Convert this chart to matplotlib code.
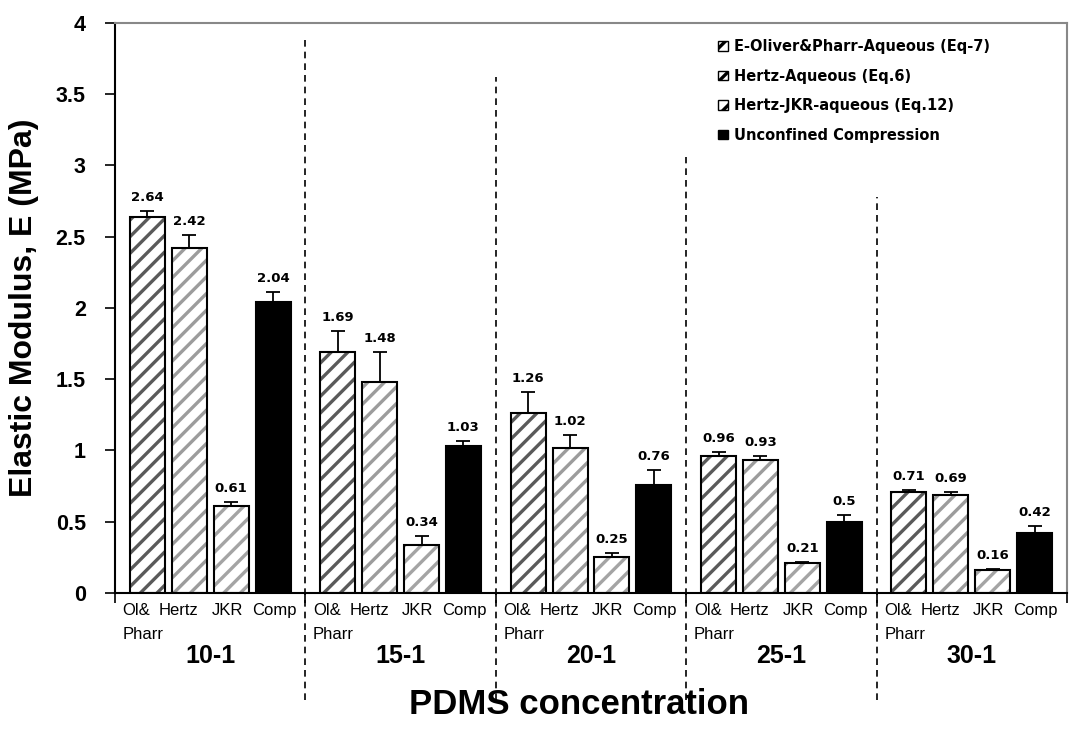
import numpy as np
import matplotlib
matplotlib.use("Agg")
import matplotlib.pyplot as plt
from matplotlib.patches import Patch

# PDMS base:curing-agent ratios and the four methods shown in each group
groups = ["10-1", "15-1", "20-1", "25-1", "30-1"]
methods = ["Ol&", "Hertz", "JKR", "Comp"]
legend_labels = ["E-Oliver&Pharr-Aqueous (Eq-7)", "Hertz-Aqueous (Eq.6)",
                 "Hertz-JKR-aqueous (Eq.12)", "Unconfined Compression"]

oliver_pharr = [2.64, 1.69, 1.26, 0.96, 0.71]
hertz = [2.42, 1.48, 1.02, 0.93, 0.69]
jkr = [0.61, 0.34, 0.25, 0.21, 0.16]
compression = [2.04, 1.03, 0.76, 0.50, 0.42]

oliver_pharr_err = [0.04, 0.15, 0.15, 0.03, 0.01]
hertz_err = [0.09, 0.21, 0.09, 0.03, 0.02]
jkr_err = [0.03, 0.06, 0.03, 0.01, 0.01]
compression_err = [0.07, 0.04, 0.10, 0.05, 0.05]

# heights where the dashed group separators start
divider_tops = [3.88, 3.62, 3.06, 2.78]

plt.rcParams["font.family"] = ["Liberation Sans", "DejaVu Sans"]
plt.rcParams["hatch.linewidth"] = 2.4

series = [oliver_pharr, hertz, jkr, compression]
errors = [oliver_pharr_err, hertz_err, jkr_err, compression_err]
styles = [dict(face="white", hatch="//", hcol="#5a5a5a"),
          dict(face="white", hatch="//", hcol="#9c9c9c"),
          dict(face="white", hatch="//", hcol="#a4a4a4"),
          dict(face="black", hatch=None, hcol="black")]
offsets = [-0.33, -0.11, 0.11, 0.33]
width = 0.184
# where the method names sit inside a group (not centred on the bars)
label_offsets = [-0.46, -0.165, 0.088, 0.335]

fig = plt.figure(figsize=(10.72, 7.32), dpi=100)
ax = fig.add_axes([0.1073, 0.1899, 0.8880, 0.7787])

x = np.arange(len(groups))
for vals, errs, st, off in zip(series, errors, styles, offsets):
    pos = x + off
    # hatch layer (its colour comes from the edge colour), then a black outline
    ax.bar(pos, vals, width, color=st["face"], edgecolor=st["hcol"],
           hatch=st["hatch"], linewidth=0, zorder=2)
    ax.bar(pos, vals, width, fill=False, edgecolor="black", linewidth=1.5, zorder=3)
    ax.errorbar(pos, vals, yerr=[np.zeros(len(errs)), errs], fmt="none",
                ecolor="black", elinewidth=1.3, capsize=5, capthick=1.3, zorder=4)
    for p, v, e in zip(pos, vals, errs):
        ax.annotate(f"{v:g}", (p, v + e), xytext=(0, 5), textcoords="offset points",
                    ha="center", va="bottom", fontsize=9.5, fontweight="bold",
                    family="DejaVu Sans")

# dashed separators running down into the label area
for b, top in zip(x[:-1] + 0.5, divider_tops):
    ax.plot([b, b], [-0.75, top], ls=(0, (4, 3)), color="black", lw=1.2,
            clip_on=False, zorder=1)

ax.set_xlim(-0.5, len(groups) - 0.5)
ax.set_ylim(0, 4)
ticks = np.arange(0, 4.01, 0.5)
ax.set_yticks(ticks)
ax.set_yticklabels([f"{t:g}" for t in ticks], fontsize=15.5, fontweight="bold")
ax.set_xticks(np.arange(-0.5, len(groups), 1.0))
ax.set_xticklabels([])
ax.tick_params(axis="both", direction="out", length=7, width=1.2)
ax.tick_params(axis="y", pad=14)

for s in ("left", "bottom"):
    ax.spines[s].set_linewidth(1.5)
for s in ("top", "right"):
    ax.spines[s].set_color("#888888")
    ax.spines[s].set_linewidth(1.5)

# method labels under each bar and group names beneath
for gi in x:
    for off, m in zip(label_offsets, methods):
        ha = "left" if m == "Ol&" else "center"
        ax.text(gi + off, -0.07, m, ha=ha, va="top", fontsize=12)
    ax.text(gi + label_offsets[0], -0.24, "Pharr", ha="left", va="top", fontsize=12)
    ax.text(gi, -0.36, groups[gi], ha="center", va="top", fontsize=18,
            fontweight="bold")

ax.set_ylabel("Elastic Modulus, E (MPa)", fontsize=23, fontweight="bold")
ax.yaxis.set_label_coords(-0.08, 0.5)
fig.text(0.54, 0.037, "PDMS concentration", ha="center",
         va="center", fontsize=25, fontweight="bold")

handles = [Patch(facecolor=st["face"], edgecolor="black", hatch=st["hatch"])
           for st in styles]
ax.legend(handles, legend_labels, loc="upper left", bbox_to_anchor=(0.62, 0.995),
          frameon=False, handlelength=0.65, handleheight=0.65, handletextpad=0.4,
          labelspacing=1.0, prop=dict(family="DejaVu Sans", weight="bold", size=10.5))

fig.savefig("out.png", dpi=100)
